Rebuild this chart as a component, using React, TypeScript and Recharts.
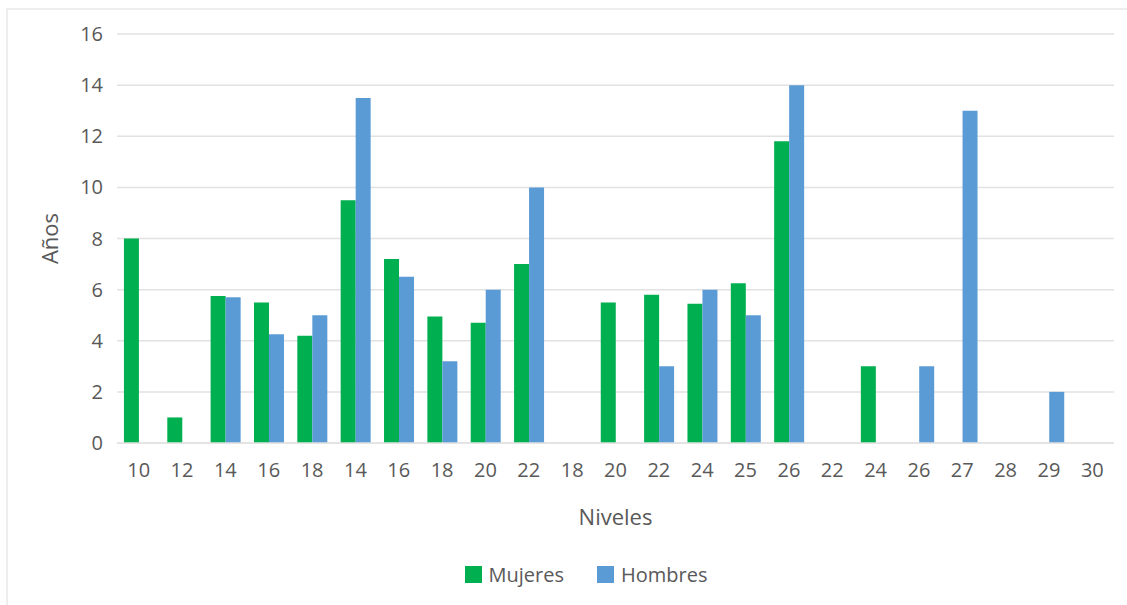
import React from "react";
import { BarChart, Bar, XAxis, YAxis, CartesianGrid, Legend } from "recharts";

const niveles = [
  "10", "12", "14", "16", "18", "14", "16", "18", "20", "22", "18", "20",
  "22", "24", "25", "26", "22", "24", "26", "27", "28", "29", "30",
];
const mujeres = [
  8, 1, 5.75, 5.5, 4.2, 9.5, 7.2, 4.95, 4.7, 7, 0, 5.5,
  5.8, 5.45, 6.25, 11.8, 0, 3, 0, 0, 0, 0, 0,
];
const hombres = [
  0, 0, 5.7, 4.25, 5, 13.5, 6.5, 3.2, 6, 10, 0, 0,
  3, 6, 5, 14, 0, 0, 3, 13, 0, 2, 0,
];
const series = ["Mujeres", "Hombres"];
const yTicks = [0, 2, 4, 6, 8, 10, 12, 14, 16];

const GREEN = "#00b050";
const BLUE = "#5b9bd5";
const TEXT = "#595959";
const FONT = "'Open Sans', sans-serif";

const data = niveles.map((nivel, i) => ({
  nivel,
  Mujeres: mujeres[i],
  Hombres: hombres[i],
}));

// keep legend entries in series order (Mujeres first)
function LegendContent({ payload }: any) {
  const items = [...(payload || [])].sort(
    (a: any, b: any) => series.indexOf(a.value) - series.indexOf(b.value)
  );
  return (
    <div
      style={{
        display: "flex",
        justifyContent: "center",
        gap: 33,
        paddingLeft: 50,
        fontFamily: FONT,
      }}
    >
      {items.map((p: any) => (
        <div key={p.value} style={{ display: "flex", alignItems: "center", gap: 7 }}>
          <span style={{ display: "inline-block", width: 17, height: 17, background: p.color }} />
          <span style={{ fontSize: 20, color: TEXT }}>{p.value}</span>
        </div>
      ))}
    </div>
  );
}

export default function App() {
  return (
    <div
      style={{
        position: "absolute",
        left: 6,
        top: 8,
        width: 1121,
        height: 597,
        borderTop: "2px solid #eeeeee",
        borderLeft: "2px solid #eeeeee",
        background: "#fff",
      }}
    >
      <BarChart
        width={1119}
        height={595}
        data={data}
        margin={{ top: 24, right: 13, left: 0, bottom: 20 }}
        barCategoryGap="16%"
        barGap={0}
        style={{ fontFamily: FONT }}
      >
        <CartesianGrid vertical={false} stroke="#e2e2e2" strokeWidth={1.5} />
        <XAxis
          dataKey="nivel"
          allowDuplicatedCategory
          height={118}
          axisLine={{ stroke: "#e2e2e2", strokeWidth: 1.5 }}
          tickLine={false}
          tickSize={0}
          tickMargin={20}
          interval={0}
          tick={{ fontSize: 20, fill: TEXT }}
          label={{
            value: "Niveles",
            position: "insideBottom",
            offset: 36,
            style: { fontSize: 22, fill: TEXT },
          }}
        />
        <YAxis
          width={109}
          domain={[0, 16]}
          ticks={yTicks}
          axisLine={false}
          tickLine={false}
          tickSize={0}
          tickMargin={14}
          tick={{ fontSize: 20, fill: TEXT }}
          label={{
            value: "Años",
            angle: -90,
            position: "insideLeft",
            offset: 42,
            style: { fontSize: 22, fill: TEXT, textAnchor: "middle" },
          }}
        />
        <Legend verticalAlign="bottom" height={24} content={<LegendContent />} />
        <Bar dataKey="Mujeres" fill={GREEN} isAnimationActive={false} />
        <Bar dataKey="Hombres" fill={BLUE} isAnimationActive={false} />
      </BarChart>
    </div>
  );
}
